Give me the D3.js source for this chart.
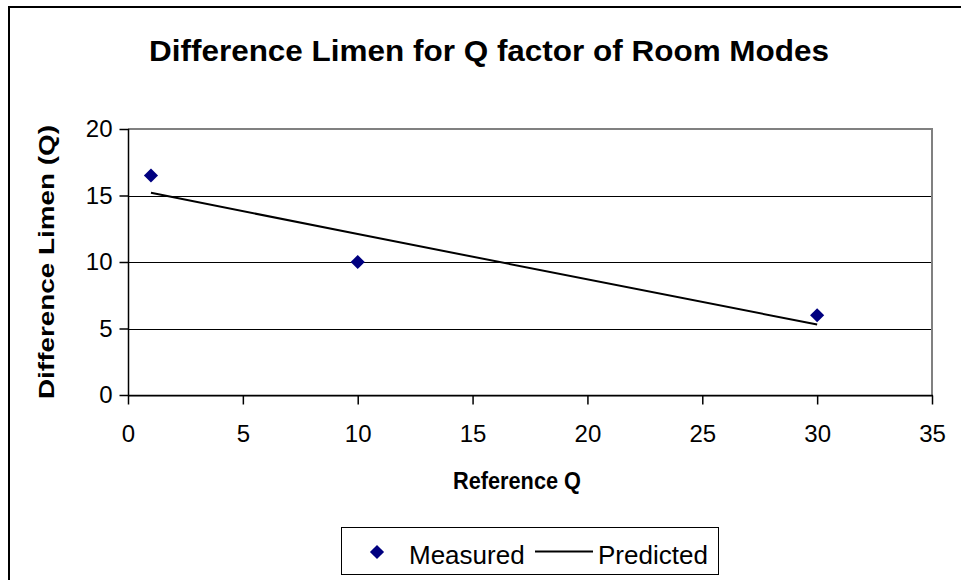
<!DOCTYPE html>
<html>
<head>
<meta charset="utf-8">
<script src="https://cdn.jsdelivr.net/npm/d3@7"></script>
<style>
  html, body { margin: 0; padding: 0; background: #fff; }
  svg { display: block; font-family: "Liberation Sans", Arial, sans-serif; }
</style>
</head>
<body>
<svg id="chart" width="961" height="580"></svg>
<script>
// Reference Q values and the difference limen measured / predicted at each
const referenceQ = [1, 10, 30];
const measured = [16.5, 10, 6];
const predicted = [15.2, 12.1, 5.3];
const xTicks = [0, 5, 10, 15, 20, 25, 30, 35];
const yTicks = [0, 5, 10, 15, 20];

const svg = d3.select("#chart");
const W = 961, H = 580;
const plot = { left: 128, right: 932, top: 129, bottom: 395 };

// Outer chart frame (runs off the right and bottom edges)
svg.append("rect")
  .attr("x", 9).attr("y", 7)
  .attr("width", W + 10).attr("height", H + 10)
  .attr("fill", "#fff").attr("stroke", "#000").attr("stroke-width", 2);

// Title
svg.append("text")
  .attr("x", 489).attr("y", 61)
  .attr("text-anchor", "middle")
  .attr("font-size", 30).attr("font-weight", "bold")
  .attr("textLength", 680).attr("lengthAdjust", "spacingAndGlyphs")
  .text("Difference Limen for Q factor of Room Modes");

const x = d3.scaleLinear().domain([0, 35]).range([plot.left, plot.right]);
const y = d3.scaleLinear().domain([0, 20]).range([plot.bottom, plot.top]);

// Horizontal gridlines
svg.append("g")
  .selectAll("line")
  .data(yTicks.filter(v => v > 0 && v < 20))
  .join("line")
  .attr("x1", plot.left).attr("x2", plot.right)
  .attr("y1", d => Math.round(y(d)) + 0.5).attr("y2", d => Math.round(y(d)) + 0.5)
  .attr("stroke", "#000").attr("stroke-width", 1);

// Plot area frame: grey top and right edges
svg.append("path")
  .attr("d", `M${plot.left},${plot.top} H${plot.right} V${plot.bottom}`)
  .attr("fill", "none").attr("stroke", "#808080").attr("stroke-width", 2);
svg.append("line")
  .attr("x1", plot.left).attr("x2", plot.right + 1)
  .attr("y1", plot.bottom + 1.5).attr("y2", plot.bottom + 1.5)
  .attr("stroke", "#a0a0a0").attr("stroke-width", 1);

// Axes
const xAxis = d3.axisBottom(x).tickValues(xTicks).tickSizeInner(9).tickSizeOuter(0).tickPadding(20);
const yAxis = d3.axisLeft(y).tickValues(yTicks).tickSizeInner(9).tickSizeOuter(0).tickPadding(7);

const gx = svg.append("g").attr("transform", `translate(0,${plot.bottom + 0.5})`).call(xAxis);
const gy = svg.append("g").attr("transform", `translate(${plot.left + 0.5},0)`).call(yAxis);
[gx, gy].forEach(g => {
  g.selectAll("path, line").attr("stroke", "#000").attr("stroke-width", 1.5);
  g.selectAll("text").attr("font-size", 24).attr("fill", "#000")
    .attr("font-family", "Liberation Sans, Arial, sans-serif");
});
gx.select(".domain").attr("d", `M${plot.left},0H${plot.right + 1}`);
gy.select(".domain").attr("d", `M0,${plot.top}V${plot.bottom}`);

// Axis titles
svg.append("text")
  .attr("x", 517).attr("y", 489)
  .attr("text-anchor", "middle")
  .attr("font-size", 23).attr("font-weight", "bold")
  .attr("textLength", 128).attr("lengthAdjust", "spacingAndGlyphs")
  .text("Reference Q");
svg.append("text")
  .attr("transform", "translate(54,262) rotate(-90)")
  .attr("text-anchor", "middle")
  .attr("font-size", 22).attr("font-weight", "bold")
  .attr("textLength", 274).attr("lengthAdjust", "spacingAndGlyphs")
  .text("Difference Limen (Q)");

// Predicted line
const line = d3.line().x((d, i) => x(referenceQ[i])).y(d => y(d));
svg.append("path")
  .datum(predicted)
  .attr("d", line)
  .attr("fill", "none").attr("stroke", "#000").attr("stroke-width", 2);

// Measured points as diamonds
const diamond = d3.symbol().type(d3.symbolSquare).size(100);
svg.append("g")
  .selectAll("path")
  .data(measured)
  .join("path")
  .attr("d", diamond)
  .attr("transform", (d, i) => `translate(${x(referenceQ[i])},${y(d)}) rotate(45)`)
  .attr("fill", "#000080");

// Legend
const leg = svg.append("g");
leg.append("rect")
  .attr("x", 341.5).attr("y", 527.5).attr("width", 377).attr("height", 47)
  .attr("fill", "#fff").attr("stroke", "#000").attr("stroke-width", 1);
leg.append("path")
  .attr("d", d3.symbol().type(d3.symbolSquare).size(100))
  .attr("transform", "translate(377,552) rotate(45)")
  .attr("fill", "#000080");
leg.append("text")
  .attr("x", 409).attr("y", 564)
  .attr("font-size", 26).text("Measured");
leg.append("line")
  .attr("x1", 535).attr("x2", 593).attr("y1", 551.5).attr("y2", 551.5)
  .attr("stroke", "#000").attr("stroke-width", 2);
leg.append("text")
  .attr("x", 598).attr("y", 564)
  .attr("font-size", 26).text("Predicted");
</script>
</body>
</html>
